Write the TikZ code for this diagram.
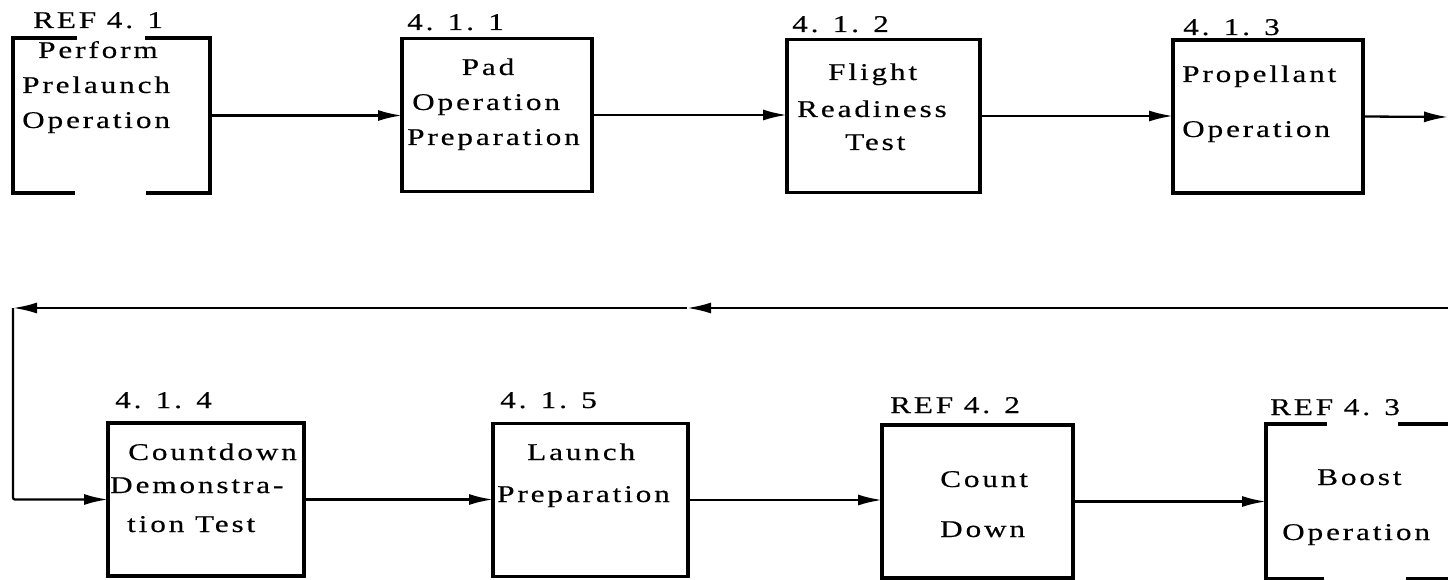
\documentclass[tikz,border=0pt]{standalone}
\usepackage{fontspec}
\setmainfont{Liberation Serif}[FakeStretch=1.3, LetterSpace=12, FakeBold=0.4]
\usetikzlibrary{arrows.meta,calc}

\tikzset{
  stepbox/.style={draw, line width=3.2pt, inner sep=0pt, outer sep=0pt,
                  minimum width=#1, minimum height=153pt},
  openbox/.style={draw=none, inner sep=0pt, outer sep=0pt,
                  minimum width=#1, minimum height=155pt},
  frame/.style={line width=3.2pt, line cap=rect},
  flow/.style={line width=2.3pt, -{Latex[length=24pt,width=11pt]}},
  txt/.style={anchor=base west, inner sep=0pt, font=\fontsize{24}{28}\selectfont},
  ctxt/.style={anchor=base, inner sep=0pt, font=\fontsize{24}{28}\selectfont}
}

\begin{document}
\begin{tikzpicture}[x=1pt,y=-1pt]
\useasboundingbox (0,0) rectangle (1448,580);
\clip (0,0) rectangle (1448,580);

% ---- top row ----
\node[openbox=197pt] (b1) at (111.5,115.5) {};
\draw[frame] ($(b1.north west)+(62,0)$) -- (b1.north west) -- (b1.south west) -- ++(60,0);
\draw[frame] ($(b1.north east)+(-63,0)$) -- (b1.north east) -- (b1.south east) -- ++(-62,0);
\node[txt] (l1) at (33,28) {REF 4. 1};
\node[txt] (b1a) at (38,58) {Perform};
\node[txt] (b1b) at (22,93) {Prelaunch};
\node[txt] (b1c) at (22,128) {Operation};

\node[stepbox=190pt] (b2) at (497,115) {};
\node[txt] (l2) at (407,30) {4. 1. 1};
\node[ctxt] (b2a) at (488,75) {Pad};
\node[txt] (b2b) at (412,110) {Operation};
\node[txt] (b2c) at (407,145) {Preparation};

\node[stepbox=193pt] (b3) at (883.5,116) {};
\node[txt] (l3) at (792,32) {4. 1. 2};
\node[txt] (b3a) at (828,80) {Flight};
\node[txt] (b3b) at (797,117) {Readiness};
\node[txt] (b3c) at (845,150) {Test};

\node[stepbox=190pt] (b4) at (1268,116.5) {};
\node[txt] (l4) at (1183,35) {4. 1. 3};
\node[txt] (b4a) at (1182,82) {Propellant};
\node[txt] (b4b) at (1182,137) {Operation};

% ---- bottom row ----
\node[stepbox=196pt] (b5) at (206,499.5) {};
\node[txt] (l5) at (115,408) {4. 1. 4};
\node[txt] (b5a) at (128,460) {Countdown};
\node[txt] (b5b) at (110,493) {Demonstra-};
\node[txt] (b5c) at (127,532) {tion Test};

\node[stepbox=195pt] (b6) at (590.5,500) {};
\node[txt] (l6) at (500,408) {4. 1. 5};
\node[txt] (b6a) at (527,460) {Launch};
\node[txt] (b6b) at (497,502) {Preparation};

\node[stepbox=191pt] (b7) at (977.5,501.5) {};
\node[txt] (l7) at (890,413) {REF 4. 2};
\node[txt] (b7a) at (940,487) {Count};
\node[txt] (b7b) at (940,537) {Down};

\node[openbox=193pt] (b8) at (1362.5,501.5) {};
\draw[frame] ($(b8.north west)+(59,0)$) -- (b8.north west) -- (b8.south west) -- ++(56,0);
\draw[frame] ($(b8.north east)+(-59,0)$) -- (b8.north east) -- (b8.south east) -- ++(-51,0);
\node[txt] (l8) at (1270,415) {REF 4. 3};
\node[txt] (b8a) at (1317,485) {Boost};
\node[txt] (b8b) at (1282,540) {Operation};

% ---- connectors ----
\coordinate (out) at (1448,117);
\coordinate (back) at (1450,308);
\coordinate (mid) at (687,308);
\coordinate (turn) at (13,308);

\draw[flow] (b1.east) -- (b1.east -| b2.west);
\draw[flow] (b2.east) -- (b2.east -| b3.west);
\draw[flow] (b3.east) -- (b3.east -| b4.west);
\draw[flow] (b4.east) -- (out);
\draw[flow] (back) -- (mid);
\draw[flow] (mid) -- (turn);
\draw[flow, rounded corners=2pt] (turn) |- (b5.west);
\draw[flow] (b5.east) -- (b5.east -| b6.west);
\draw[flow] (b6.east) -- (b6.east -| b7.west);
\draw[flow] (b7.east) -- (b7.east -| b8.west);
\end{tikzpicture}
\end{document}
